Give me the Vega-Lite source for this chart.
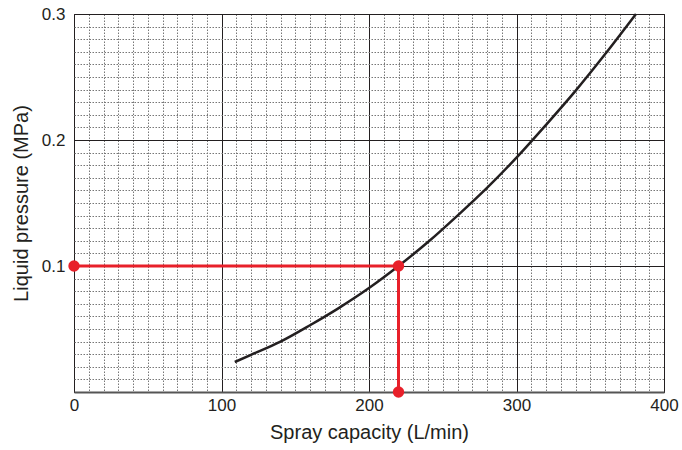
{
  "$schema": "https://vega.github.io/schema/vega-lite/v6.json",
  "width": 590,
  "height": 378,
  "autosize": "none",
  "padding": {"left": 74, "top": 14, "right": 18, "bottom": 58},
  "config": {
    "view": {"stroke": "#231f20", "strokeWidth": 1},
    "font": "Liberation Sans",
    "axis": {
      "labelFont": "Liberation Sans",
      "titleFont": "Liberation Sans",
      "labelFontSize": 17,
      "titleFontSize": 20,
      "titleFontWeight": "normal",
      "labelColor": "#231f20",
      "titleColor": "#231f20",
      "ticks": false,
      "domainColor": "#555",
      "domainWidth": 2,
      "labelOverlap": false,
      "labelFlush": false,
      "tickCount": 100
    }
  },
  "datasets": {
    "curve": [
      {"q": 109, "p": 0.0238},
      {"q": 120, "p": 0.0295},
      {"q": 140, "p": 0.040},
      {"q": 160, "p": 0.053},
      {"q": 180, "p": 0.067},
      {"q": 200, "p": 0.0825},
      {"q": 220, "p": 0.1},
      {"q": 240, "p": 0.119},
      {"q": 260, "p": 0.140},
      {"q": 280, "p": 0.162},
      {"q": 300, "p": 0.186},
      {"q": 320, "p": 0.212},
      {"q": 340, "p": 0.239},
      {"q": 360, "p": 0.268},
      {"q": 381, "p": 0.3}
    ],
    "red": [
      {"q": 0, "p": 0.1, "o": 1},
      {"q": 220, "p": 0.1, "o": 2},
      {"q": 220, "p": 0, "o": 3}
    ]
  },
  "layer": [
    {
      "data": {"name": "curve"},
      "mark": {"type": "line", "color": "#231f20", "strokeWidth": 2.5, "interpolate": "monotone"},
      "encoding": {
        "x": {
          "field": "q", "type": "quantitative",
          "scale": {"domain": [0, 400], "nice": false, "zero": false},
          "axis": {
            "title": "Spray capacity (L/min)",
            "values": [0,10,20,30,40,50,60,70,80,90,100,110,120,130,140,150,160,170,180,190,200,210,220,230,240,250,260,270,280,290,300,310,320,330,340,350,360,370,380,390,400],
            "labelExpr": "datum.value % 100 === 0 ? datum.label : ''",
            "grid": true,
            "gridColor": {"condition": {"test": "datum.value % 100 === 0", "value": "#231f20"}, "value": "#777"},
            "gridDash": {"condition": {"test": "datum.value % 100 === 0", "value": []}, "value": [1.5, 1.5]},
            "gridOpacity": 1,
            "gridWidth": 1,
            "labelPadding": 5,
            "titlePadding": 9
          }
        },
        "y": {
          "field": "p", "type": "quantitative",
          "scale": {"domain": [0, 0.3], "nice": false, "zero": false},
          "axis": {
            "title": "Liquid pressure (MPa)",
            "values": [0,0.01,0.02,0.03,0.04,0.05,0.06,0.07,0.08,0.09,0.1,0.11,0.12,0.13,0.14,0.15,0.16,0.17,0.18,0.19,0.2,0.21,0.22,0.23,0.24,0.25,0.26,0.27,0.28,0.29,0.3],
            "labelExpr": "datum.value > 0 && round(datum.value * 100) % 10 === 0 ? format(datum.value, '.1f') : ''",
            "grid": true,
            "gridColor": {"condition": {"test": "round(datum.value * 100) % 10 === 0", "value": "#231f20"}, "value": "#777"},
            "gridDash": {"condition": {"test": "round(datum.value * 100) % 10 === 0", "value": []}, "value": [1.5, 1.5]},
            "gridOpacity": 1,
            "gridWidth": 1,
            "domain": false,
            "labelPadding": 9,
            "titlePadding": 10
          }
        }
      }
    },
    {
      "data": {"name": "red"},
      "mark": {"type": "line", "color": "#e8202a", "strokeWidth": 3, "clip": false},
      "encoding": {
        "x": {"field": "q", "type": "quantitative"},
        "y": {"field": "p", "type": "quantitative"},
        "order": {"field": "o"}
      }
    },
    {
      "data": {"name": "red"},
      "mark": {"type": "point", "filled": true, "color": "#e8202a", "size": 130, "opacity": 1, "clip": false},
      "encoding": {
        "x": {"field": "q", "type": "quantitative"},
        "y": {"field": "p", "type": "quantitative"}
      }
    }
  ]
}
